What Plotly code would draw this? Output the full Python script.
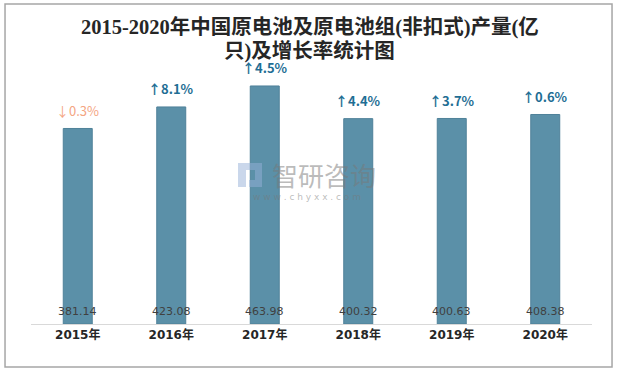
import plotly.graph_objects as go

years = ["2015年", "2016年", "2017年", "2018年", "2019年", "2020年"]
output = [381.14, 423.08, 463.98, 400.32, 400.63, 408.38]
growth_labels = ["↓0.3%", "↑8.1%", "↑4.5%", "↑4.4%", "↑3.7%", "↑0.6%"]
growth_up = [False, True, True, True, True, True]

title_line1 = "2015-2020年中国原电池及原电池组(非扣式)产量(亿"
title_line2 = "只)及增长率统计图"

bar_color = "#5B90A8"
up_color = "#1F6E94"
down_color = "#F4A582"

fig = go.Figure()
fig.add_trace(go.Bar(
    x=years, y=output, width=0.31,
    marker=dict(color=bar_color, line=dict(color="#4F8199", width=1)),
    hoverinfo="skip",
))

for yr, v in zip(years, output):
    fig.add_annotation(
        x=yr, y=0, yshift=13, text=f"{v:.2f}", showarrow=False,
        xanchor="center", yanchor="middle",
        font=dict(family="DejaVu Sans, Noto Sans CJK SC", size=11, color="#404040"),
    )

for yr, v, lab, up in zip(years, output, growth_labels, growth_up):
    fig.add_annotation(
        x=yr, y=v, yshift=18, text=f"<b>{lab}</b>" if up else lab,
        showarrow=False, xanchor="center", yanchor="middle", borderpad=0,
        font=dict(family="Noto Sans CJK SC, DejaVu Sans", size=13,
                  color=up_color if up else down_color),
    )

# title (two lines)
for txt, yy in [(title_line1, (324 - 27) / 264), (title_line2, (324 - 51.5) / 264)]:
    fig.add_annotation(xref="paper", yref="paper", x=0.497, y=yy, text=f"<b>{txt}</b>",
                       showarrow=False, xanchor="center", yanchor="middle", borderpad=0,
                       font=dict(family="Liberation Serif, Noto Sans CJK SC", size=20.5, color="#262626"))

# watermark
fig.add_annotation(xref="paper", yref="paper", x=0.522, y=0.566, text="智研咨询",
                   showarrow=False, xanchor="center", yanchor="middle",
                   font=dict(family="Noto Sans CJK SC", size=26, color="rgba(120,120,120,0.5)"))
fig.add_annotation(xref="paper", yref="paper", x=0.492, y=0.481, text="w w w . c h y x x . c o m",
                   showarrow=False, xanchor="center", yanchor="middle",
                   font=dict(family="DejaVu Sans", size=9, color="rgba(120,120,120,0.5)"))
# watermark logo (simple blocks)
for x0, x1, y0, y1 in [(238, 246, 163, 187), (246, 262, 163, 170), (255, 262, 170, 180), (249, 262, 180, 187)]:
    fig.add_shape(type="rect", xref="paper", yref="paper",
                  x0=(x0 - 31) / 561, x1=(x1 - 31) / 561,
                  y0=(324 - y1) / 264, y1=(324 - y0) / 264,
                  line=dict(width=0), fillcolor="rgba(150,175,215,0.5)")

# outer border
fig.add_shape(type="rect", xref="paper", yref="paper",
              x0=-0.0463, x1=1.0357, y0=-0.163, y1=1.212,
              line=dict(color="#A6A6A6", width=1.5), fillcolor="rgba(0,0,0,0)", layer="below")

fig.update_layout(
    width=617, height=370,
    margin=dict(l=31, r=25, t=60, b=46),
    paper_bgcolor="white", plot_bgcolor="white",
    showlegend=False,
    xaxis=dict(showline=True, linecolor="#D9D9D9", linewidth=1, ticks="",
               tickprefix="<b>", ticksuffix="</b>",
               tickfont=dict(family="DejaVu Sans, Noto Sans CJK SC", size=12, color="#262626"),
               showgrid=False, fixedrange=True),
    yaxis=dict(range=[0, 514.6], visible=False, showgrid=False, fixedrange=True),
)

fig.write_html("out.html", config={"displayModeBar": False},
               post_script="document.body.style.margin='0';")
